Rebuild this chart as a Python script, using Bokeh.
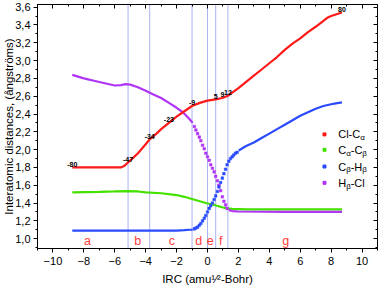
import math
from bokeh.plotting import figure
from bokeh.models import (Span, Label, LinearAxis, FixedTicker, CustomJSTickFormatter, Range1d,
                          CustomLabelingPolicy)
from bokeh.core.properties import value
from bokeh.embed import file_html
from bokeh.resources import INLINE

# ---------------- data ----------------
# Cl-C(alpha)
red_x = [-8.75, -7.0, -5.6, -5.4, -5.14, -4.8, -4.5, -4.0, -3.74, -3.3, -3.0, -2.5, -2.0, -1.59,
         -1.0, -0.5, 0.0, 0.53, 0.96, 1.32, 1.6, 2.0, 2.5, 3.0, 3.5, 4.0, 4.5, 5.0, 5.5, 6.0,
         6.5, 7.0, 7.5, 7.75, 8.0, 8.35, 8.7]
red_y = [1.80, 1.80, 1.80, 1.815, 1.855, 1.91, 1.96, 2.06, 2.115, 2.18, 2.23, 2.30, 2.37, 2.42,
         2.49, 2.525, 2.55, 2.565, 2.58, 2.605, 2.64, 2.69, 2.76, 2.83, 2.90, 2.97, 3.04, 3.12,
         3.19, 3.25, 3.32, 3.38, 3.445, 3.48, 3.50, 3.52, 3.54]

# C(alpha)-C(beta)
green_x = [-8.75, -7.0, -6.0, -5.14, -4.5, -4.0, -3.0, -2.0, -1.5, -1.0, -0.5, 0.0, 0.32, 0.6,
           1.0, 1.3, 1.6, 2.5, 5.0, 8.7]
green_y = [1.52, 1.525, 1.53, 1.535, 1.53, 1.52, 1.51, 1.49, 1.47, 1.445, 1.42, 1.395, 1.385,
           1.37, 1.35, 1.34, 1.335, 1.33, 1.33, 1.33]

# C(beta)-H(beta): smooth part, dotted steep part, smooth part
blue_a_x = [-8.75, -5.0, -2.0, -1.5, -1.17, -0.96]
blue_a_y = [1.09, 1.09, 1.09, 1.095, 1.10, 1.10]
blue_dot_x = [-0.85, -0.75, -0.64, -0.53, -0.43, -0.32, -0.21, -0.11, 0.0, 0.11, 0.21, 0.32,
              0.43, 0.53, 0.64, 0.74, 0.85, 0.96, 1.06, 1.17, 1.27, 1.38, 1.49, 1.60, 1.70,
              1.81, 1.92]
blue_dot_y = [1.11, 1.12, 1.13, 1.15, 1.17, 1.20, 1.23, 1.26, 1.30, 1.34, 1.37, 1.40,
              1.44, 1.48, 1.53, 1.58, 1.63, 1.68, 1.73, 1.78, 1.83, 1.87, 1.90, 1.92, 1.94,
              1.96, 1.97]
blue_b_x = [2.02, 2.5, 3.0, 3.5, 4.0, 4.5, 5.0, 5.5, 6.0, 6.5, 7.0, 7.5, 8.0, 8.3, 8.7]
blue_b_y = [1.99, 2.04, 2.08, 2.13, 2.18, 2.23, 2.28, 2.33, 2.38, 2.42, 2.46, 2.49, 2.51, 2.52, 2.53]

# H(beta)-Cl
purple_a_x = [-8.75, -8.0, -7.0, -6.5, -6.0, -5.6, -5.3, -5.0, -4.5, -4.0, -3.5, -3.0, -2.44,
              -2.0, -1.59, -1.2, -0.96]
purple_a_y = [2.84, 2.80, 2.76, 2.74, 2.72, 2.725, 2.735, 2.73, 2.70, 2.66, 2.62, 2.58, 2.52,
              2.47, 2.42, 2.35, 2.30]
purple_dot_x = [-0.85, -0.75, -0.64, -0.53, -0.43, -0.32, -0.21, -0.11, 0.0, 0.11, 0.21, 0.32,
                0.43, 0.53, 0.64, 0.74, 0.85, 0.96, 1.06, 1.17, 1.27]
purple_dot_y = [2.26, 2.22, 2.18, 2.14, 2.10, 2.05, 2.01, 1.96, 1.92, 1.88, 1.83, 1.79,
                1.75, 1.70, 1.65, 1.60, 1.54, 1.47, 1.42, 1.38, 1.34]
purple_b_x = [1.38, 1.6, 2.0, 5.0, 8.7]
purple_b_y = [1.32, 1.31, 1.305, 1.30, 1.30]

# IRC point numbers marked on the Cl-C(alpha) curve
point_text = ["-80", "-47", "-34", "-23", "-9", "5", "9", "12", "80"]
point_x = [-8.75, -5.14, -3.74, -2.5, -1.0, 0.53, 0.96, 1.32, 8.7]

# region boundaries and region letters
region_lines = [-5.14, -3.74, -1.0, 0.0, 0.53, 1.32]
region_text = ["a", "b", "c", "d", "e", "f", "g"]
region_x = [-7.76, -4.51, -2.30, -0.56, 0.18, 0.86, 5.06]
region_y = 0.975

x_major = [-10, -8, -6, -4, -2, 0, 2, 4, 6, 8, 10]
x_minor = [-11, -9, -7, -5, -3, -1, 1, 3, 5, 7, 9, 11]
y_major = [1.0, 1.2, 1.4, 1.6, 1.8, 2.0, 2.2, 2.4, 2.6, 2.8, 3.0, 3.2, 3.4, 3.6]
y_minor = [0.9, 1.1, 1.3, 1.5, 1.7, 1.9, 2.1, 2.3, 2.5, 2.7, 2.9, 3.1, 3.3, 3.5]

x_title = "IRC (amu¹⁄²-Bohr)"
y_title = "Interatomic distances, (ångströms)"
series_names = [["Cl-C", "α"], ["C", "α", "-C", "β"], ["C", "β", "-H", "β"], ["H", "β", "-Cl"]]

# ---------------- styles ----------------
FONT = "Liberation Sans"
RED = "#ff1a1a"
GREEN = "#44e000"
BLUE = "#2b4bff"
PURPLE = "#b035f5"
SERIES_COLORS = [RED, GREEN, BLUE, PURPLE]
VLINE = "#aab3f3"
LETTER = "#ff3c3c"

PXU_Y = 248 / (3.630 - 0.8895)

p = figure(width=381, height=290, x_range=Range1d(-11, 11), y_range=Range1d(0.8895, 3.630),
           output_backend="svg", toolbar_location=None,
           min_border_left=34, min_border_right=1, min_border_top=0, min_border_bottom=42,
           x_axis_location=None, y_axis_location=None)
p.grid.visible = False
p.outline_line_color = "black"
p.outline_line_width = 1
p.background_fill_color = "white"
p.border_fill_color = "white"

xt = FixedTicker(ticks=x_major, minor_ticks=x_minor)
yt = FixedTicker(ticks=y_major, minor_ticks=y_minor)

NO_LABELS = "for (const i of indices) { indices.unset(i) }\nreturn indices"


def style_axis(ax, inward, labels):
    ax.axis_line_color = "black"
    ax.major_tick_line_color = "black"
    ax.minor_tick_line_color = "black"
    if inward:
        ax.major_tick_in, ax.major_tick_out = 4, 0
        ax.minor_tick_in, ax.minor_tick_out = 2, 0
    else:
        ax.major_tick_in, ax.major_tick_out = 0, 4
        ax.minor_tick_in, ax.minor_tick_out = 0, 2
    if labels:
        ax.major_label_text_font = FONT
        ax.major_label_text_font_size = "11px"
        ax.major_label_text_color = "black"
        ax.axis_label_text_font = FONT
        ax.axis_label_text_font_size = "11.5px"
        ax.axis_label_text_font_style = "normal"
        ax.axis_label_text_color = "black"
    else:
        ax.major_label_text_font_size = "1px"
        ax.major_label_standoff = 0
        ax.major_label_policy = CustomLabelingPolicy(code=NO_LABELS)
        ax.axis_label = None


xb = LinearAxis(ticker=xt, axis_label=x_title)
style_axis(xb, False, True)
xb.major_label_standoff = 4
xb.axis_label_standoff = 5
p.add_layout(xb, "below")

yl = LinearAxis(ticker=yt, axis_label=y_title,
                formatter=CustomJSTickFormatter(code="return tick.toFixed(1).replace('.', ',');"))
style_axis(yl, False, True)
yl.major_label_standoff = 3
yl.axis_label_standoff = -3
p.add_layout(yl, "left")

xa = LinearAxis(ticker=xt)
style_axis(xa, True, False)
p.add_layout(xa, "above")

yr = LinearAxis(ticker=yt)
style_axis(yr, True, False)
p.add_layout(yr, "right")

for v in region_lines:
    p.add_layout(Span(location=v, dimension="height", line_color=VLINE, line_width=1, level="underlay"))

# curves
p.line(green_x, green_y, line_color=GREEN, line_width=2.2)
p.line(purple_a_x, purple_a_y, line_color=PURPLE, line_width=2.2)
p.scatter(purple_dot_x, purple_dot_y, marker="square", size=2.6, fill_color=PURPLE, line_color=PURPLE, line_width=0.5)
p.line(purple_b_x, purple_b_y, line_color=PURPLE, line_width=2.2)
p.line(blue_a_x, blue_a_y, line_color=BLUE, line_width=2.2)
p.scatter(blue_dot_x, blue_dot_y, marker="square", size=2.6, fill_color=BLUE, line_color=BLUE, line_width=0.5)
p.line(blue_b_x, blue_b_y, line_color=BLUE, line_width=2.2)
p.line(red_x, red_y, line_color=RED, line_width=2.2)

# IRC point numbers
point_y = [red_y[red_x.index(x)] for x in point_x]
p.text(x=point_x, y=point_y, text=point_text, text_font=value(FONT), text_font_size=value("7px"),
       text_font_style="bold", text_align="center", text_baseline="alphabetic", y_offset=-3,
       text_color="black")

# region letters
p.text(x=region_x, y=[region_y] * len(region_x), text=region_text, text_font=value(FONT),
       text_font_size=value("12.5px"), text_align="center", text_baseline="alphabetic",
       text_color=LETTER)

# legend (manual, for subscripts)
leg_marker_x = 7.57
leg_text_x = 8.457
leg_y = [2.171, 1.998, 1.810, 1.627]
p.scatter([leg_marker_x] * 4, leg_y, marker="square", size=3, fill_color=SERIES_COLORS,
          line_color=SERIES_COLORS)
widths = {"Cl-C": 22.0, "C": 7.94, "H": 7.94, "-C": 11.6, "-H": 11.6, "-Cl": 14.0,
          "α": 4.6, "β": 4.5}
for name, yy in zip(series_names, leg_y):
    off = 0.0
    for i, piece in enumerate(name):
        sub = piece in ("α", "β")
        p.add_layout(Label(x=leg_text_x, y=yy - (3.5 / PXU_Y if sub else 0.0), x_offset=off,
                           text=piece, text_font=FONT,
                           text_font_size="8px" if sub else "11px", text_color="black",
                           text_align="left", text_baseline="middle"))
        off += widths[piece]

open("out.html", "w").write(file_html(p, INLINE))
